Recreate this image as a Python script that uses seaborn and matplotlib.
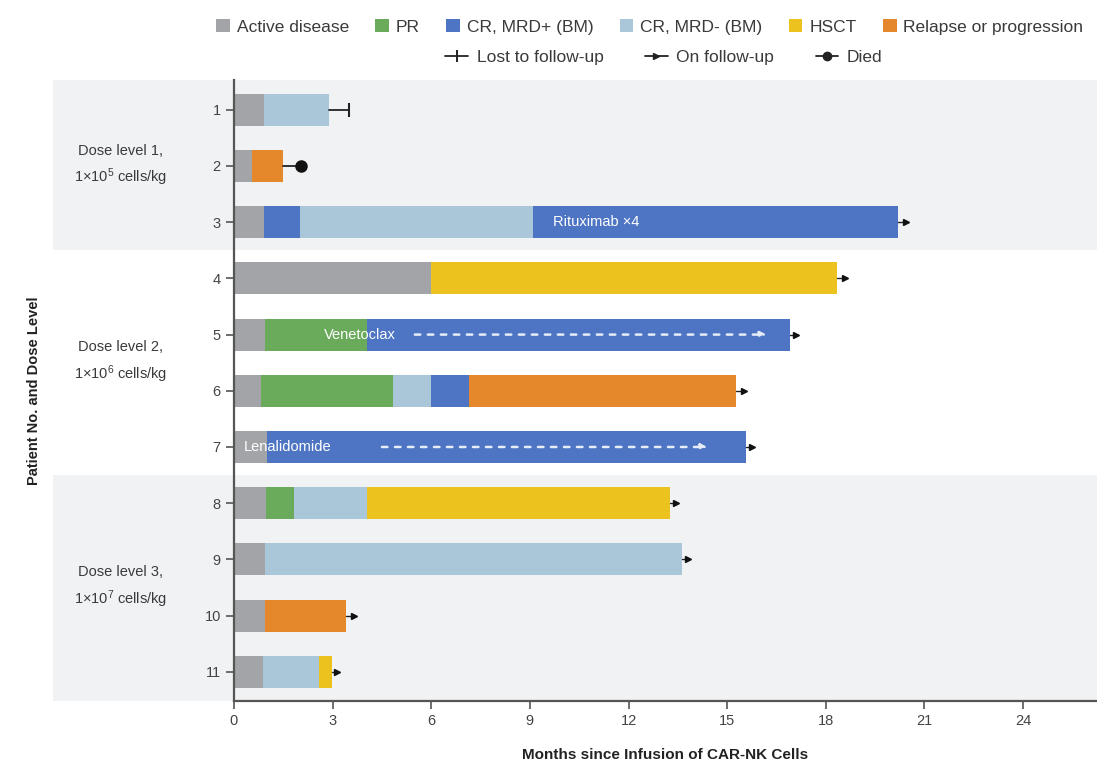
import matplotlib
matplotlib.use("Agg")
import matplotlib.pyplot as plt
import matplotlib.transforms as mtransforms
import seaborn as sns
import pandas as pd
from matplotlib import font_manager
from matplotlib.patches import Patch
from matplotlib.lines import Line2D
from matplotlib.legend_handler import HandlerLine2D

# patients, top to bottom
patients = ["1", "2", "3", "4", "5", "6", "7", "8", "9", "10", "11"]

status_names = ["Active disease", "PR", "CR, MRD+ (BM)", "CR, MRD- (BM)", "HSCT", "Relapse or progression"]
status_colors = ["#a3a4a7", "#6aaa5b", "#4d75c4", "#aac7d9", "#ecc21e", "#e5872b"]

# bar segments: patient, status, month where the segment ends
seg_patient = ["1", "1",
               "2", "2",
               "3", "3", "3", "3",
               "4", "4",
               "5", "5", "5",
               "6", "6", "6", "6", "6",
               "7", "7",
               "8", "8", "8", "8",
               "9", "9",
               "10", "10",
               "11", "11", "11"]
seg_status = ["Active disease", "CR, MRD- (BM)",
              "Active disease", "Relapse or progression",
              "Active disease", "CR, MRD+ (BM)", "CR, MRD- (BM)", "CR, MRD+ (BM)",
              "Active disease", "HSCT",
              "Active disease", "PR", "CR, MRD+ (BM)",
              "Active disease", "PR", "CR, MRD- (BM)", "CR, MRD+ (BM)", "Relapse or progression",
              "Active disease", "CR, MRD+ (BM)",
              "Active disease", "PR", "CR, MRD- (BM)", "HSCT",
              "Active disease", "CR, MRD- (BM)",
              "Active disease", "Relapse or progression",
              "Active disease", "CR, MRD- (BM)", "HSCT"]
seg_end = [0.9, 2.9,
           0.55, 1.5,
           0.9, 2.0, 9.1, 20.2,
           6.0, 18.35,
           0.95, 4.05, 16.9,
           0.83, 4.84, 6.0, 7.15, 15.27,
           1.0, 15.57,
           0.97, 1.83, 4.05, 13.27,
           0.93, 13.63,
           0.93, 3.42,
           0.88, 2.6, 2.97]

# follow-up status at the end of each bar
outcome = ["Lost to follow-up", "Died"] + ["On follow-up"] * 9
outcome_x = [3.5, 2.05, 20.45, 18.6, 17.1, 15.5, 15.75, 13.45, 13.8, 3.65, 3.12]

# therapy notes written inside the bars
therapy_patient = ["3", "5", "7"]
therapy_label = ["Rituximab \u00d74", "Venetoclax", "Lenalidomide"]
therapy_x = [9.7, 2.75, 0.3]
therapy_arrow_start = [None, 5.5, 4.5]
therapy_arrow_end = [None, 16.2, 14.4]

dose_labels = ["Dose level 1,\n1\u00d710$^5$ cells/kg",
               "Dose level 2,\n1\u00d710$^6$ cells/kg",
               "Dose level 3,\n1\u00d710$^7$ cells/kg"]
dose_first = ["1", "4", "8"]
dose_last = ["3", "7", "11"]

x_ticks = [0, 3, 6, 9, 12, 15, 18, 21, 24]

# ---------------------------------------------------------------
sns.set_theme(style="ticks")
names = {f.name for f in font_manager.fontManager.ttflist}
base_font = "Liberation Sans Narrow" if "Liberation Sans Narrow" in names else "Liberation Sans"
plt.rcParams["font.family"] = [base_font, "DejaVu Sans"]
plt.rcParams["mathtext.default"] = "regular"

df = pd.DataFrame({"patient": seg_patient, "status": seg_status, "end": seg_end})
df["layer"] = df.groupby("patient").cumcount()
palette = dict(zip(status_names, status_colors))
row = {p: i for i, p in enumerate(patients)}

fig = plt.figure(figsize=(10.97, 7.67), dpi=100)
ax = fig.add_axes([234 / 1097, 1 - 701 / 767, 1 - 234 / 1097, (701 - 80) / 767])

# stacked bars: draw the longest cumulative segment first, shorter ones on top
for layer in sorted(df["layer"].unique(), reverse=True):
    sub = df[df["layer"] == layer]
    sns.barplot(data=sub, x="end", y="patient", hue="status", order=patients,
                hue_order=status_names, palette=palette, dodge=False, orient="h",
                width=0.57, saturation=1, errorbar=None, linewidth=0,
                legend=False, ax=ax)

# background bands for the dose levels
band_color = "#f1f2f4"
for first, last, shade in zip(dose_first, dose_last, [True, False, True]):
    lo = row[first] - 0.5 if first != "1" else -0.53
    hi = row[last] + 0.5 if last != "11" else 10.52
    if shade:
        ax.axhspan(lo, hi, xmin=-0.21, xmax=1, color=band_color, zorder=0, lw=0, clip_on=False)

trans = mtransforms.blended_transform_factory(ax.transAxes, ax.transData)
for lab, first, last in zip(dose_labels, dose_first, dose_last):
    ymid = (row[first] + row[last]) / 2
    ax.text(-0.132, ymid, lab, transform=trans, ha="center", va="center",
            fontsize=10.5, color="#3a3a3a", linespacing=1.6)

# follow-up markers
bar_end = df.groupby("patient")["end"].max()
for p, kind, xe in zip(patients, outcome, outcome_x):
    y = row[p]
    x0 = bar_end[p]
    if kind == "Lost to follow-up":
        ax.plot([x0, xe], [y, y], color="#222222", lw=1.3, zorder=3)
        ax.plot([xe], [y], marker="|", ms=10, mew=1.5, color="#222222", zorder=3)
    elif kind == "Died":
        ax.plot([x0, xe], [y, y], color="#222222", lw=1.3, zorder=3)
        ax.plot([xe], [y], marker="o", ms=8, color="#111111", zorder=3)
    else:
        ax.plot([x0, xe], [y, y], color="#222222", lw=1.0, zorder=3)
        ax.plot([xe], [y], marker=">", ms=4.5, color="#111111", zorder=3)

# therapy notes
for p, lab, tx, xs, xe in zip(therapy_patient, therapy_label, therapy_x,
                              therapy_arrow_start, therapy_arrow_end):
    y = row[p]
    ax.text(tx, y, lab, color="white", fontsize=10.5, ha="left", va="center", zorder=4)
    if xs is not None:
        ax.annotate("", xy=(xe, y), xytext=(xs, y), zorder=4,
                    arrowprops=dict(arrowstyle="-|>", color="#e6edf8", lw=1.8,
                                    linestyle=(0, (2.2, 3.0)), mutation_scale=9,
                                    shrinkA=0, shrinkB=0))

ax.set_xlim(0, 26.25)
ax.set_ylim(10.52, -0.53)
ax.set_xticks(x_ticks)
ax.set_xticklabels([str(t) for t in x_ticks])
ax.set_yticks(range(len(patients)))
ax.set_yticklabels(patients)
ax.tick_params(axis="both", direction="out", length=6, width=1.2, color="#555555",
               labelsize=10.5, labelcolor="#444444")
for side in ["top", "right"]:
    ax.spines[side].set_visible(False)
for side in ["left", "bottom"]:
    ax.spines[side].set_color("#555555")
    ax.spines[side].set_linewidth(1.6)

ax.set_xlabel("Months since Infusion of CAR-NK Cells", fontsize=11, fontweight="bold",
              color="#222222", labelpad=14)
ax.set_ylabel("Patient No. and Dose Level", fontsize=10.5, fontweight="bold", color="#222222")
ax.yaxis.set_label_coords(-0.224, 0.5)


# legend line handles with the marker at the right end
class EndMarkerHandler(HandlerLine2D):
    def get_xdata(self, legend, xdescent, ydescent, width, height, fontsize):
        return [-xdescent, -xdescent + width], [-xdescent + width]


patch_handles = [Patch(facecolor=c, edgecolor="none") for c in status_colors]
fig.legend(patch_handles, status_names, ncol=6, loc="center left",
           bbox_to_anchor=(216 / 1097, 1 - 27 / 767), frameon=False, fontsize=12.5,
           handlelength=0.8, handleheight=0.8, handletextpad=0.4, columnspacing=1.5,
           labelcolor="#3a3a3a", borderaxespad=0, borderpad=0)

line_handles = [
    Line2D([0], [0], color="#222222", lw=1.3, marker="|", ms=8, mew=1.4),
    Line2D([0], [0], color="#222222", lw=1.3, marker=">", ms=5),
    Line2D([0], [0], color="#222222", lw=1.3, marker="o", ms=6),
]
fig.legend(line_handles, ["Lost to follow-up", "On follow-up", "Died"], ncol=3,
           loc="center", bbox_to_anchor=(664 / 1097, 1 - 57 / 767), frameon=False,
           fontsize=12.5, handlelength=1.3, handletextpad=0.5, columnspacing=2.4,
           labelcolor="#3a3a3a", borderaxespad=0, borderpad=0,
           handler_map={Line2D: EndMarkerHandler()})

fig.savefig("out.png", dpi=100)
